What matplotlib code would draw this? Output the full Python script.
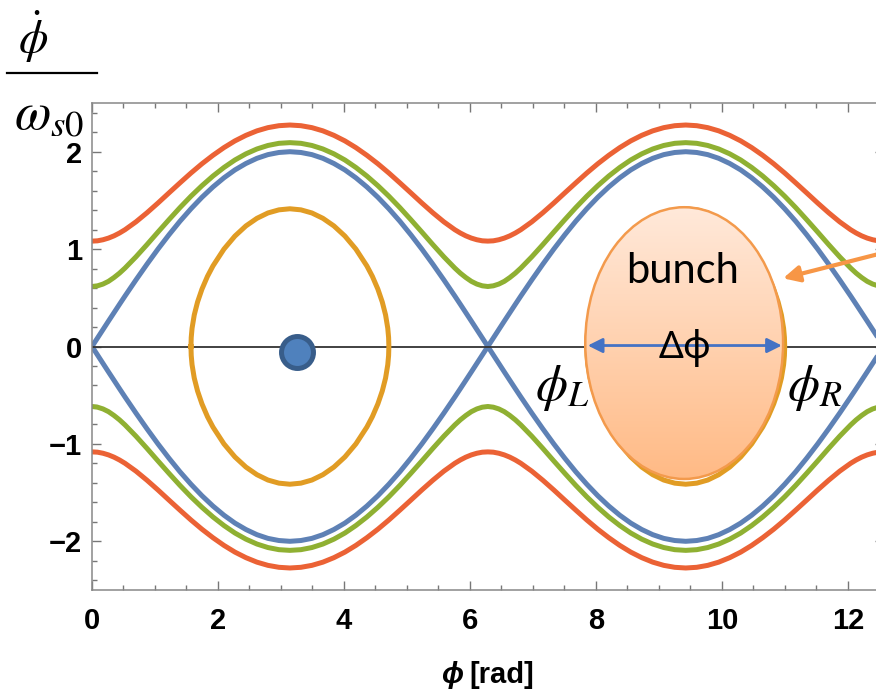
import numpy as np
import matplotlib
matplotlib.use("Agg")
import matplotlib.pyplot as plt
from matplotlib.patches import Ellipse
from matplotlib.colors import LinearSegmentedColormap
from matplotlib.lines import Line2D
from matplotlib.ticker import MultipleLocator

plt.rcParams['mathtext.fontset'] = 'stix'

# ---- data (half period, phi in degrees 0..180) ----
phase_deg = [0, 5, 10, 15, 20, 25, 30, 40, 50, 60, 70, 80, 90,
             100, 110, 120, 130, 140, 150, 160, 170, 180]
separatrix = [0.000, 0.087, 0.174, 0.261, 0.347, 0.433, 0.518, 0.684, 0.845,
              1.000, 1.147, 1.286, 1.414, 1.532, 1.638, 1.732, 1.813, 1.879,
              1.932, 1.970, 1.992, 2.000]
green_orbit = [0.616, 0.623, 0.641, 0.669, 0.708, 0.753, 0.805, 0.921, 1.046,
               1.175, 1.302, 1.426, 1.543, 1.651, 1.750, 1.838, 1.915, 1.978,
               2.028, 2.064, 2.086, 2.093]
red_orbit = [1.082, 1.085, 1.096, 1.113, 1.136, 1.165, 1.199, 1.280, 1.373,
             1.473, 1.577, 1.680, 1.781, 1.876, 1.963, 2.042, 2.111, 2.168,
             2.214, 2.247, 2.267, 2.274]
# orange closed orbit, half-loop (phi in degrees 90..180)
loop_deg = [90, 90.25, 91, 93, 96, 100, 105, 110, 120, 130, 140, 150, 160, 170, 180]
loop_val = [0.000, 0.093, 0.187, 0.324, 0.457, 0.589, 0.720, 0.827, 1.000,
            1.134, 1.238, 1.316, 1.371, 1.403, 1.414]

bunch_center = (9.40, 0.035)
bunch_size = (3.14, 2.79)
dot_pos = (3.25, -0.06)
xticks = [0, 2, 4, 6, 8, 10, 12]
yticks = [-2, -1, 0, 1, 2]

C_BLUE = '#5E81B5'
C_ORANGE = '#E19C24'
C_GREEN = '#8FB032'
C_RED = '#EB6235'

# ---- build curves from the half-period tables ----
xh = np.deg2rad(phase_deg)
xp = np.concatenate([xh, 2 * np.pi - xh[-2::-1]])
xfull = np.concatenate([xp, xp[1:] + 2 * np.pi])


def full(vals):
    v = np.asarray(vals)
    per = np.concatenate([v, v[-2::-1]])
    return np.concatenate([per, per[1:]])


lx = np.deg2rad(loop_deg)
lv = np.asarray(loop_val)
xu = np.concatenate([lx, 2 * np.pi - lx[-2::-1]])
yu = np.concatenate([lv, lv[-2::-1]])
loop_x = np.concatenate([xu, xu[::-1]])
loop_y = np.concatenate([yu, -yu[::-1]])

fig = plt.figure(figsize=(8.76, 6.90), dpi=100)
ax = fig.add_axes([92 / 876, 100 / 690, 12.566 * 63 / 876, 487 / 690])

lw = 3.6
for vals, col in [(separatrix, C_BLUE), (green_orbit, C_GREEN), (red_orbit, C_RED)]:
    y = full(vals)
    ax.plot(xfull, y, color=col, lw=lw, solid_capstyle='round', zorder=2)
    ax.plot(xfull, -y, color=col, lw=lw, solid_capstyle='round', zorder=2)

ax.axhline(0, color='#333333', lw=1.3, zorder=2.5)

ax.plot(loop_x, loop_y, color=C_ORANGE, lw=lw, zorder=3)
ax.plot(loop_x + 2 * np.pi, loop_y, color=C_ORANGE, lw=lw, zorder=3)

# blue dot
ax.plot([dot_pos[0]], [dot_pos[1]], 'o', ms=23, mfc='#4F81BD', mec='#385D8A',
        mew=3.6, zorder=5)

# bunch ellipse with gradient
ell = Ellipse(bunch_center, bunch_size[0], bunch_size[1], facecolor='none',
              edgecolor='#F39A4C', lw=1.8, zorder=4.5)
ax.add_patch(ell)
cmap = LinearSegmentedColormap.from_list('bunch', ['#FFE9DA', '#FFBA85'])
grad = np.linspace(0, 1, 256).reshape(-1, 1)
x0 = bunch_center[0] - bunch_size[0] / 2
x1 = bunch_center[0] + bunch_size[0] / 2
y0 = bunch_center[1] - bunch_size[1] / 2
y1 = bunch_center[1] + bunch_size[1] / 2
im = ax.imshow(grad, extent=[x0, x1, y0, y1], origin='upper', cmap=cmap,
               aspect='auto', zorder=4, interpolation='bilinear')
im.set_clip_path(ell)

# double arrow delta phi
ax.annotate('', xy=(10.95, 0.01), xytext=(7.87, 0.01),
            arrowprops=dict(arrowstyle='<|-|>', color='#4472C4', lw=2,
                            mutation_scale=22, shrinkA=0, shrinkB=0), zorder=6)
# orange pointer arrow
ax.annotate('', xy=(10.97, 0.70), xytext=(12.55, 0.96),
            arrowprops=dict(arrowstyle='-|>', color='#F79646', lw=3,
                            mutation_scale=24, shrinkA=0, shrinkB=0), zorder=6)

ax.text(9.38, 0.647, 'bunch', family=['Lato', 'DejaVu Sans'], fontsize=30,
        ha='center', va='baseline', zorder=7)
ax.text(9.41, -0.123, 'Δϕ', family=['Noto Sans', 'DejaVu Sans'], fontsize=28,
        ha='center', va='baseline', zorder=7)
ax.text(7.47, -0.55, r'$\phi_L$', fontsize=37, ha='center', va='baseline', zorder=7)
ax.text(11.47, -0.55, r'$\phi_R$', fontsize=37, ha='center', va='baseline', zorder=7)

# axes styling
ax.set_xlim(0, 4 * np.pi)
ax.set_ylim(-2.5, 2.5)
ax.set_xticks(xticks)
ax.set_yticks(yticks)
ax.xaxis.set_minor_locator(MultipleLocator(0.5))
ax.yaxis.set_minor_locator(MultipleLocator(0.2))
for s in ax.spines.values():
    s.set_color('#888888')
    s.set_linewidth(1.1)
ax.tick_params(which='both', direction='in', top=True, right=True, color='#777777',
               width=1.0)
ax.tick_params(which='major', length=6.5)
ax.tick_params(which='minor', length=3.6)
ax.tick_params(axis='x', pad=12)
ax.tick_params(axis='y', pad=7)
for lab in ax.get_xticklabels() + ax.get_yticklabels():
    lab.set_family(['Liberation Sans', 'DejaVu Sans'])
    lab.set_fontweight('bold')
    lab.set_fontsize(21)

# x label
fig.text(463 / 876, 1 - 683 / 690, 'ϕ', family=['Liberation Sans', 'DejaVu Sans'],
         fontsize=21, fontweight='bold', style='italic', ha='right', va='baseline')
fig.text(469 / 876, 1 - 683 / 690, '[rad]', family=['Liberation Sans', 'DejaVu Sans'],
         fontsize=21, fontweight='bold', ha='left', va='baseline')

# y label as a fraction
fig.text(33 / 876, 1 - 53 / 690, r'$\dot{\phi}$', fontsize=34, ha='center',
         va='baseline')
fig.add_artist(Line2D([7 / 876, 97 / 876], [1 - 73 / 690, 1 - 73 / 690],
                      color='black', lw=1.6, transform=fig.transFigure))
fig.text(14 / 876, 1 - 129 / 690, r'$\omega_{s0}$', fontsize=38, ha='left',
         va='baseline')

fig.savefig('out.png', dpi=100)
